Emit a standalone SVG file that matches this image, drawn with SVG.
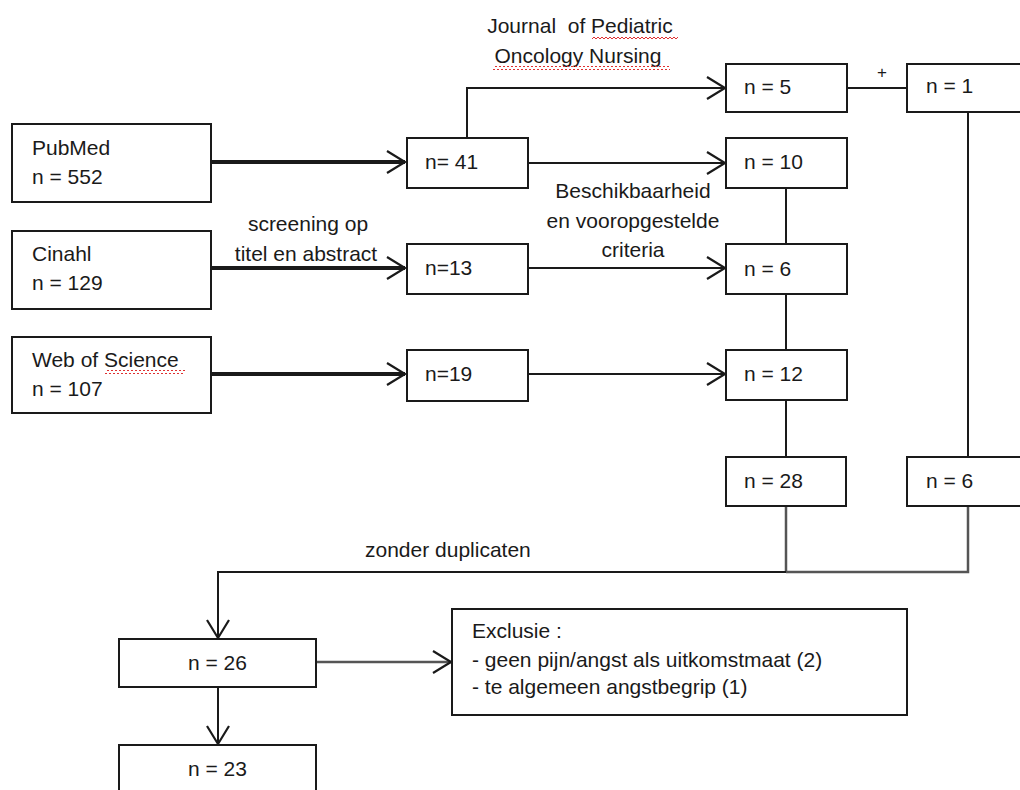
<svg xmlns="http://www.w3.org/2000/svg" width="1020" height="790" viewBox="0 0 1020 790">
<style>
.box{fill:#fff;stroke:#1a1a1a;stroke-width:2}
.t{font-family:"Liberation Sans",Arial,sans-serif;font-size:21px;fill:#1a1a1a}
.c{text-anchor:middle}
.ln{fill:none;stroke:#1a1a1a;stroke-width:2}
.thick{fill:none;stroke:#1a1a1a;stroke-width:4}
.gr{fill:none;stroke:#555;stroke-width:2.5}
</style>
<defs>
<marker id="chev" markerUnits="userSpaceOnUse" markerWidth="24" markerHeight="26" viewBox="0 0 24 26" refX="20" refY="13" orient="auto">
<path d="M2,2 L20,13 L2,24" fill="none" stroke="#1a1a1a" stroke-width="2.2"/>
</marker>
<pattern id="wave" width="4" height="4" patternUnits="userSpaceOnUse">
<path d="M0,3 L2,1 L4,3" fill="none" stroke="#e03030" stroke-width="1"/>
</pattern>
</defs>
<rect width="1020" height="790" fill="#fff"/>

<g id="connectors">
<line class="thick" x1="211" y1="162" x2="405" y2="162" marker-end="url(#chev)"/>
<line class="thick" x1="211" y1="268" x2="405" y2="268" marker-end="url(#chev)"/>
<line class="thick" x1="211" y1="374" x2="405" y2="374" marker-end="url(#chev)"/>
<polyline class="ln" points="467,138 467,88 725,88" marker-end="url(#chev)"/>
<line class="ln" x1="528" y1="163" x2="725" y2="163" marker-end="url(#chev)"/>
<line class="ln" x1="528" y1="268" x2="725" y2="268" marker-end="url(#chev)"/>
<line class="ln" x1="528" y1="374" x2="725" y2="374" marker-end="url(#chev)"/>
<line class="ln" x1="847" y1="88" x2="907" y2="88"/>
<line class="ln" x1="786" y1="188" x2="786" y2="244"/>
<line class="ln" x1="786" y1="294" x2="786" y2="350"/>
<line class="ln" x1="786" y1="400" x2="786" y2="457"/>
<line class="ln" x1="968" y1="112" x2="968" y2="457"/>
<polyline class="gr" points="968,506 968,572 786,572"/>
<line class="gr" x1="786" y1="506" x2="786" y2="572"/>
<polyline class="ln" points="786,572 218,572 218,638" marker-end="url(#chev)"/>
<line class="gr" x1="316" y1="662" x2="451" y2="662" marker-end="url(#chev)"/>
<line class="ln" x1="218" y1="687" x2="218" y2="744" marker-end="url(#chev)"/>
<text class="t c" x="580" y="33" xml:space="preserve">Journal  of Pediatric</text>
<text class="t c" x="578" y="63">Oncology Nursing</text>
<rect x="592" y="36" width="86" height="4" fill="url(#wave)"/>
<rect x="493" y="66" width="177" height="4" fill="url(#wave)"/>
<text class="t c" x="882" y="78" style="font-size:17px">+</text>
<text class="t c" x="308" y="231">screening op</text>
<text class="t c" x="306" y="261">titel en abstract</text>
<text class="t c" x="633" y="198">Beschikbaarheid</text>
<text class="t c" x="633" y="228">en vooropgestelde</text>
<text class="t c" x="633" y="257">criteria</text>
<text class="t" x="365" y="557">zonder duplicaten</text>
</g>

<g id="pubmed"><rect class="box" x="12" y="124" width="199" height="78"/><text class="t" x="32" y="155">PubMed</text><text class="t" x="32" y="184">n = 552</text></g>
<g id="cinahl"><rect class="box" x="12" y="231" width="199" height="78"/><text class="t" x="32" y="261">Cinahl</text><text class="t" x="32" y="290">n = 129</text></g>
<g id="wos"><rect class="box" x="12" y="337" width="199" height="76"/><text class="t" x="32" y="367">Web of Science</text><rect x="105" y="370" width="80" height="4" fill="url(#wave)"/><text class="t" x="32" y="396">n = 107</text></g>

<g id="n41"><rect class="box" x="407" y="138" width="121" height="50"/><text class="t" x="425" y="169">n= 41</text></g>
<g id="n13"><rect class="box" x="407" y="244" width="121" height="50"/><text class="t" x="425" y="275">n=13</text></g>
<g id="n19"><rect class="box" x="407" y="350" width="121" height="51"/><text class="t" x="425" y="381">n=19</text></g>

<g id="n5"><rect class="box" x="726" y="64" width="121" height="48"/><text class="t" x="744" y="94">n = 5</text></g>
<g id="n10"><rect class="box" x="726" y="138" width="121" height="50"/><text class="t" x="744" y="169">n = 10</text></g>
<g id="n6"><rect class="box" x="726" y="244" width="121" height="50"/><text class="t" x="744" y="276">n = 6</text></g>
<g id="n12"><rect class="box" x="726" y="350" width="121" height="50"/><text class="t" x="744" y="381">n = 12</text></g>
<g id="n28"><rect class="box" x="726" y="457" width="120" height="49"/><text class="t" x="744" y="488">n = 28</text></g>

<g id="n1"><rect class="box" x="907" y="64" width="130" height="48"/><text class="t" x="926" y="93">n = 1</text></g>
<g id="n6r"><rect class="box" x="907" y="457" width="130" height="49"/><text class="t" x="926" y="488">n = 6</text></g>

<g id="n26"><rect class="box" x="119" y="639" width="197" height="48"/><text class="t" x="188" y="670">n = 26</text></g>
<g id="n23"><rect class="box" x="119" y="745" width="197" height="60"/><text class="t" x="188" y="776">n = 23</text></g>

<g id="exclusie"><rect class="box" x="452" y="609" width="455" height="106"/>
<text class="t" x="472" y="638">Exclusie :</text>
<text class="t" x="472" y="667">- geen pijn/angst als uitkomstmaat (2)</text>
<text class="t" x="472" y="694">- te algemeen angstbegrip (1)</text>
</g>
</svg>
